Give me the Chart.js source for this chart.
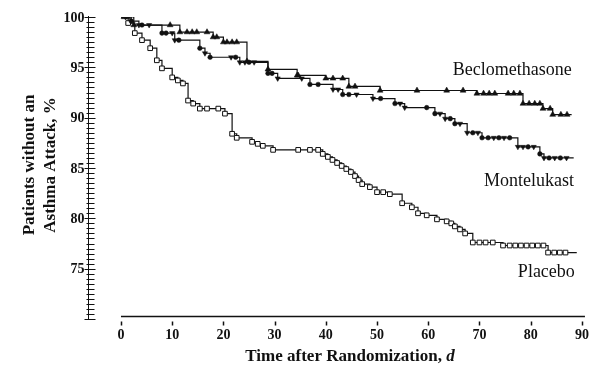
<!DOCTYPE html>
<html>
<head>
<meta charset="utf-8">
<script src="https://cdn.jsdelivr.net/npm/chart.js@4"></script>
<style>
  html, body { margin: 0; padding: 0; background: #fff; }
  #wrap { width: 595px; height: 368px; }
</style>
</head>
<body>
<div id="wrap"><canvas id="grafico" width="595" height="368"></canvas></div>
<script>
// Kaplan-Meier steps: day of drop and % after the drop
const becloDias = [0, 2.5, 11.5, 18, 20, 24.6, 28.7, 34.4, 40.0, 44.5, 50.6, 69.5, 78.5, 82.4, 84.3, 88];
const becloPct  = [100, 99.2, 98.5, 98.0, 97.5, 95.6, 94.8, 94.2, 93.9, 93.1, 92.7, 92.4, 91.4, 90.9, 90.3, 90.3];

const monteDias = [0, 2.0, 3.5, 8.0, 10.5, 15.4, 16.4, 17.4, 23.2, 28.7, 30.6, 36.9, 41.4, 43.3, 49.2, 53.5, 55.4, 61.3, 63.3, 65.2, 67.6, 70.5, 77.5, 81.8, 82.6, 88.4];
const montePct  = [100, 99.6, 99.2, 98.4, 97.7, 96.9, 96.4, 96.0, 95.5, 94.4, 93.9, 93.3, 92.8, 92.3, 91.9, 91.4, 91.0, 90.4, 89.9, 89.4, 88.5, 88.0, 87.1, 86.4, 86.0, 86.0];

const placeboDias = [0, 1.4, 2.7, 4.1, 5.7, 7.0, 8.0, 10.0, 11.1, 12.1, 13.1, 14.1, 15.4, 20.3, 21.7, 22.6, 25.6, 26.7, 27.7, 29.7, 39.4, 40.4, 41.3, 42.2, 43.1, 44.0, 44.9, 45.7, 46.4, 47.1, 48.6, 50.0, 52.5, 54.9, 56.8, 58.0, 59.7, 61.7, 63.6, 64.5, 65.2, 66.2, 67.2, 68.7, 74.6, 83.4, 89];
const placeboPct  = [100, 99.4, 98.4, 97.7, 96.9, 95.7, 94.9, 94.0, 93.7, 93.4, 91.7, 91.4, 90.9, 90.4, 88.4, 88.0, 87.6, 87.4, 87.2, 86.8, 86.4, 86.1, 85.8, 85.5, 85.2, 84.9, 84.6, 84.2, 83.8, 83.4, 83.1, 82.6, 82.4, 81.5, 81.1, 80.5, 80.3, 79.9, 79.7, 79.5, 79.2, 78.9, 78.5, 77.6, 77.3, 76.6, 76.6];

// censored patients [day, %]
const becloCensura = [[0.6,100],[1.3,100],[9.6,99.2],[12.9,98.5],[13.9,98.5],[14.8,98.5],[16.8,98.5],[18.7,98.0],[20.7,97.5],[21.7,97.5],[22.6,97.5],[34.6,94.2],[41.4,93.9],[43.3,93.9],[45.7,93.1],[57.8,92.7],[63.6,92.7],[66.8,92.7],[70.8,92.4],[71.9,92.4],[73.0,92.4],[75.6,92.4],[76.7,92.4],[77.9,92.4],[79.7,91.4],[80.8,91.4],[81.8,91.4],[83.8,90.9],[85.9,90.3],[87.1,90.3]];
const monteCensura = [[0.9,100],[4.1,99.2],[5.5,99.2],[8.8,98.4],[10.0,98.4],[11.3,97.7],[21.5,96.0],[22.4,96.0],[24.2,95.5],[25.0,95.5],[26.0,95.5],[29.5,94.4],[35.3,93.9],[38.5,93.3],[42.4,92.8],[44.5,92.3],[46.0,92.3],[50.7,91.9],[54.5,91.4],[59.7,91.0],[62.3,90.4],[64.3,89.9],[66.2,89.4],[68.7,88.5],[69.7,88.5],[71.7,88.0],[72.8,88.0],[73.8,88.0],[74.8,88.0],[75.9,88.0],[78.5,87.1],[79.5,87.1],[80.6,87.1],[83.6,86.0],[84.7,86.0],[85.8,86.0],[87.0,86.0]];
const placeboCensura = [[16.8,90.9],[19.0,90.9],[34.6,86.8],[36.9,86.8],[38.5,86.8],[51.2,82.6],[70.0,77.6],[71.2,77.6],[72.6,77.6],[75.9,77.3],[77.0,77.3],[78.1,77.3],[79.2,77.3],[80.3,77.3],[81.4,77.3],[82.5,77.3],[84.6,76.6],[85.7,76.6],[86.8,76.6]];

const xTicks = [0, 10, 20, 30, 40, 50, 60, 70, 80, 90];
const yTickLabels = [75, 80, 85, 90, 95, 100];
const nomes = ['Beclomethasone', 'Montelukast', 'Placebo'];

const serif = '"Liberation Serif", "DejaVu Serif", serif';
const tinta = '#111';

function pontos(dias, pct) {
    return dias.map((d, i) => ({ x: d, y: pct[i] }));
}
function censura(lista) {
    return lista.map(p => ({ x: p[0], y: p[1] }));
}

const eixosPlugin = {
    id: 'eixos',
    afterDraw(chart) {
        const { ctx, chartArea, scales: { x, y } } = chart;
        ctx.save();
        ctx.strokeStyle = tinta;
        ctx.fillStyle = tinta;
        ctx.lineWidth = 1;

        // y axis with minor ticks every 0.5
        const ax = Math.round(chartArea.left) + 0.5;
        ctx.beginPath();
        ctx.moveTo(ax, y.getPixelForValue(70));
        ctx.lineTo(ax, y.getPixelForValue(100) - 1);
        for (let i = 0; i <= 60; i++) {
            const v = 70 + i * 0.5;
            const py = Math.round(y.getPixelForValue(v)) + 0.5;
            const major = i % 10 === 0;
            ctx.moveTo(ax - (major ? 4 : 2), py);
            ctx.lineTo(ax + (major ? 7 : 6), py);
        }
        ctx.stroke();

        ctx.font = 'bold 14px ' + serif;
        ctx.textAlign = 'right';
        ctx.textBaseline = 'middle';
        yTickLabels.forEach(v => ctx.fillText(String(v), ax - 4, y.getPixelForValue(v) + 1));

        // x axis: detached line starting at day 0
        const ly = Math.round(y.getPixelForValue(70.25)) + 0.5;
        ctx.lineWidth = 1.3;
        ctx.beginPath();
        ctx.moveTo(x.getPixelForValue(0), ly);
        ctx.lineTo(x.getPixelForValue(90.6), ly);
        ctx.stroke();
        ctx.lineWidth = 1.5;
        ctx.beginPath();
        xTicks.forEach(t => {
            const px = Math.round(x.getPixelForValue(t)) + 0.5;
            ctx.moveTo(px, ly + 5);
            ctx.lineTo(px, ly + 9);
        });
        ctx.stroke();
        ctx.textAlign = 'center';
        ctx.textBaseline = 'middle';
        xTicks.forEach(t => ctx.fillText(String(t), x.getPixelForValue(t), ly + 19));

        // x title with italic d
        const t1 = 'Time after Randomization, ';
        const t2 = 'd';
        ctx.font = 'bold 17px ' + serif;
        const w1 = ctx.measureText(t1).width;
        ctx.font = 'italic bold 17px ' + serif;
        const w2 = ctx.measureText(t2).width;
        const cx = 350;
        const start = cx - (w1 + w2) / 2;
        ctx.textAlign = 'left';
        ctx.font = 'bold 17px ' + serif;
        ctx.fillText(t1, start, ly + 40);
        ctx.font = 'italic bold 17px ' + serif;
        ctx.fillText(t2, start + w1, ly + 40);

        // y title, two lines
        ctx.save();
        ctx.translate(30, 165);
        ctx.rotate(-Math.PI / 2);
        ctx.textAlign = 'center';
        ctx.font = 'bold 17px ' + serif;
        ctx.fillText('Patients without an', 0, 0);
        ctx.fillText('Asthma Attack, %', 0, 21);
        ctx.restore();

        // series names
        ctx.font = '18px ' + serif;
        ctx.textAlign = 'left';
        ctx.textBaseline = 'middle';
        ctx.fillText(nomes[0], x.getPixelForValue(64.8), y.getPixelForValue(94.7));
        ctx.fillText(nomes[1], x.getPixelForValue(70.9), y.getPixelForValue(83.7));
        ctx.fillText(nomes[2], x.getPixelForValue(77.5), y.getPixelForValue(74.6));
        ctx.restore();
    }
};

const linha = (label, data) => ({
    label, data, type: 'line', stepped: 'before',
    borderColor: tinta, borderWidth: 1.2, pointRadius: 0, fill: false, order: 2
});

const ctx = document.getElementById('grafico').getContext('2d');
new Chart(ctx, {
    type: 'scatter',
    data: {
        datasets: [
            linha(nomes[0], pontos(becloDias, becloPct)),
            linha(nomes[1], pontos(monteDias, montePct)),
            linha(nomes[2], pontos(placeboDias, placeboPct)),
            { label: nomes[0] + ' eventos', data: pontos(becloDias, becloPct).slice(1, -1), pointStyle: 'triangle',
              pointRadius: 3.4, backgroundColor: tinta, borderColor: tinta, borderWidth: 0.5, order: 1 },
            { label: nomes[0] + ' censura', data: censura(becloCensura), pointStyle: 'triangle',
              pointRadius: 3.4, backgroundColor: tinta, borderColor: tinta, borderWidth: 0.5, order: 1 },
            { label: nomes[1] + ' eventos', data: pontos(monteDias, montePct).slice(1, -1),
              pointStyle: c => c.dataIndex % 2 ? 'triangle' : 'circle',
              rotation: 180, pointRadius: c => c.dataIndex % 2 ? 3 : 2.3, backgroundColor: tinta, borderColor: tinta, borderWidth: 0.5, order: 1 },
            { label: nomes[1] + ' censura', data: censura(monteCensura),
              pointStyle: c => c.dataIndex % 2 ? 'circle' : 'triangle',
              rotation: 180, pointRadius: c => c.dataIndex % 2 ? 2.3 : 3, backgroundColor: tinta, borderColor: tinta, borderWidth: 0.5, order: 1 },
            { label: nomes[2] + ' eventos', data: pontos(placeboDias, placeboPct).slice(1, -1), pointStyle: 'rect',
              pointRadius: 3.3, backgroundColor: '#fff', borderColor: tinta, borderWidth: 1, order: 1 },
            { label: nomes[2] + ' censura', data: censura(placeboCensura), pointStyle: 'rect',
              pointRadius: 3.3, backgroundColor: '#fff', borderColor: tinta, borderWidth: 1, order: 1 }
        ]
    },
    options: {
        responsive: false,
        animation: false,
        devicePixelRatio: 1,
        layout: { padding: { left: 88, right: 8, top: 17, bottom: 49 } },
        plugins: { legend: { display: false }, tooltip: { enabled: false } },
        scales: {
            x: { type: 'linear', min: -6.44, max: 91, display: false },
            y: { type: 'linear', min: 70, max: 100, display: false }
        }
    },
    plugins: [eixosPlugin]
});
</script>
</body>
</html>
